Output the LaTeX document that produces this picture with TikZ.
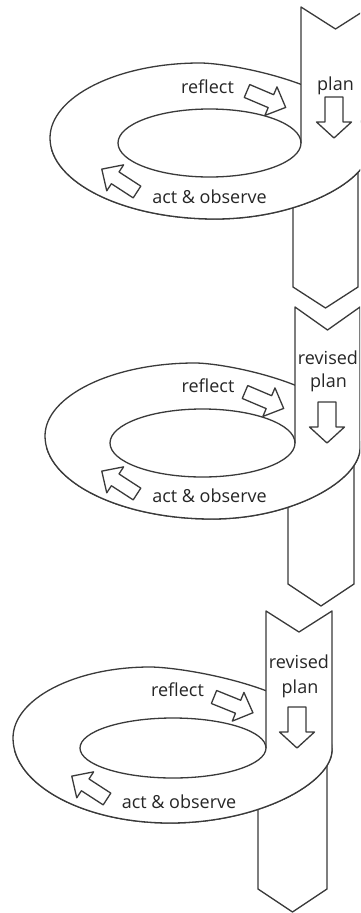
\documentclass[tikz,border=0pt]{standalone}
\usepackage{fontspec}
\setmainfont{Open Sans}
\definecolor{lncol}{HTML}{3A3A3A}
\definecolor{txcol}{HTML}{262626}
\newcommand\ringI{(50,138) .. controls (50,96.8) and (117.5,63) .. (200,63) .. controls (234,63) and (370,88.5) .. (370,148) .. controls (370,180) and (300.3,219) .. (215,219) .. controls (124.3,219) and (50,182.6) .. (50,138) -- cycle}
\newcommand\ringII{(45,436) .. controls (45,395.9) and (112.5,363) .. (195,363) .. controls (228,363) and (360,388.5) .. (360,448) .. controls (360,480) and (293.4,519) .. (212,519) .. controls (120.2,519) and (45,481.7) .. (45,436) -- cycle}
\newcommand\ringIII{(13,738) .. controls (13,699) and (74.7,667) .. (150,667) .. controls (186.4,667) and (332,691.9) .. (332,750) .. controls (332,782.9) and (259.1,823) .. (170,823) .. controls (83.7,823) and (13,784.8) .. (13,738) -- cycle}
\begin{document}
\begin{tikzpicture}[x=1pt,y=-1pt,
  ln/.style={draw=lncol, line width=1.3pt, line join=round},
  lbl/.style={font=\fontsize{18}{21}\selectfont, text=txcol, inner sep=0pt, anchor=base},
  cyclearrow/.pic={\draw[ln, fill=white] (0,-7) -- (26,-7) -- (26,-15.5) -- (42,0) -- (26,15.5) -- (26,7) -- (0,7) -- cycle;},
  downarrow/.pic={\draw[ln, fill=white] (0,-9) -- (25,-9) -- (25,-17.5) -- (41,0) -- (25,17.5) -- (25,9) -- (0,9) -- cycle;}]
\useasboundingbox (0,0) rectangle (360,913);
\clip (0,0) rectangle (360,913);
\fill[white] (0,0) rectangle (360,913);

% ---------- unit 1 ----------
\draw[ln, fill=white] (293,150) -- (293,287) -- (325.5,308) -- (358,287) -- (358,150);
\draw[ln, fill=white] \ringI;
\fill[white] (301,7) -- (335.5,29) -- (370,7) -- (370,148) -- (301,148) -- cycle;
\begin{scope}
  \clip (0,148) rectangle (360,300);
  \draw[ln, fill=white] \ringI;
\end{scope}
\draw[ln, fill=white] (209.5,143) ellipse [x radius=91.5, y radius=34];
\draw[ln] (301,143) -- (301,7) -- (335.5,29) -- (370,7) -- (370,148);

% ---------- unit 2 ----------
\draw[ln, fill=white] (288,450) -- (288,584) -- (321,606) -- (354,584) -- (354,450);
\draw[ln, fill=white] \ringII;
\fill[white] (295,307) -- (327.5,330) -- (360,307) -- (360,448) -- (295,448) -- cycle;
\begin{scope}
  \clip (0,448) rectangle (360,600);
  \draw[ln, fill=white] \ringII;
\end{scope}
\draw[ln, fill=white] (202.5,443) ellipse [x radius=92.5, y radius=34];
\draw[ln] (295,443) -- (295,307) -- (327.5,330) -- (360,307) -- (360,448);

% ---------- unit 3 ----------
\draw[ln, fill=white] (258,752) -- (258,889) -- (292.5,912) -- (327,889) -- (327,752);
\draw[ln, fill=white] \ringIII;
\fill[white] (266,611) -- (299,632) -- (332,611) -- (332,750) -- (266,750) -- cycle;
\begin{scope}
  \clip (0,750) rectangle (360,913);
  \draw[ln, fill=white] \ringIII;
\end{scope}
\draw[ln, fill=white] (173,748) ellipse [x radius=93, y radius=30];
\draw[ln] (266,748) -- (266,611) -- (299,632) -- (332,611) -- (332,750);

% ---------- arrows ----------
\path (334,97) pic[rotate=-90] {downarrow};
\path (327,402) pic[rotate=-90] {downarrow};
\path (297,707) pic[rotate=-90] {downarrow};
\path (247,91) pic[rotate=-23] {cyclearrow};
\path (137,192) pic[rotate=147] {cyclearrow};
\path (245,392) pic[rotate=-23] {cyclearrow};
\path (137,494) pic[rotate=147] {cyclearrow};
\path (214,697) pic[rotate=-22] {cyclearrow};
\path (107,799) pic[rotate=147] {cyclearrow};

% ---------- labels ----------
\node[lbl] (plan1) at (335.5,90) {plan};
\node[lbl] (reflect1) at (207.5,93) {reflect};
\node[lbl] (act1) at (209.5,203) {act \& observe};
\node[lbl] (revised2) at (328,364) {revised};
\node[lbl] (plan2) at (328.5,387) {plan};
\node[lbl] (reflect2) at (208,392) {reflect};
\node[lbl] (act2) at (209.5,502) {act \& observe};
\node[lbl] (revised3) at (299,668) {revised};
\node[lbl] (plan3) at (300,693) {plan};
\node[lbl] (reflect3) at (177.5,696) {reflect};
\node[lbl] (act3) at (179,808) {act \& observe};
\end{tikzpicture}
\end{document}
